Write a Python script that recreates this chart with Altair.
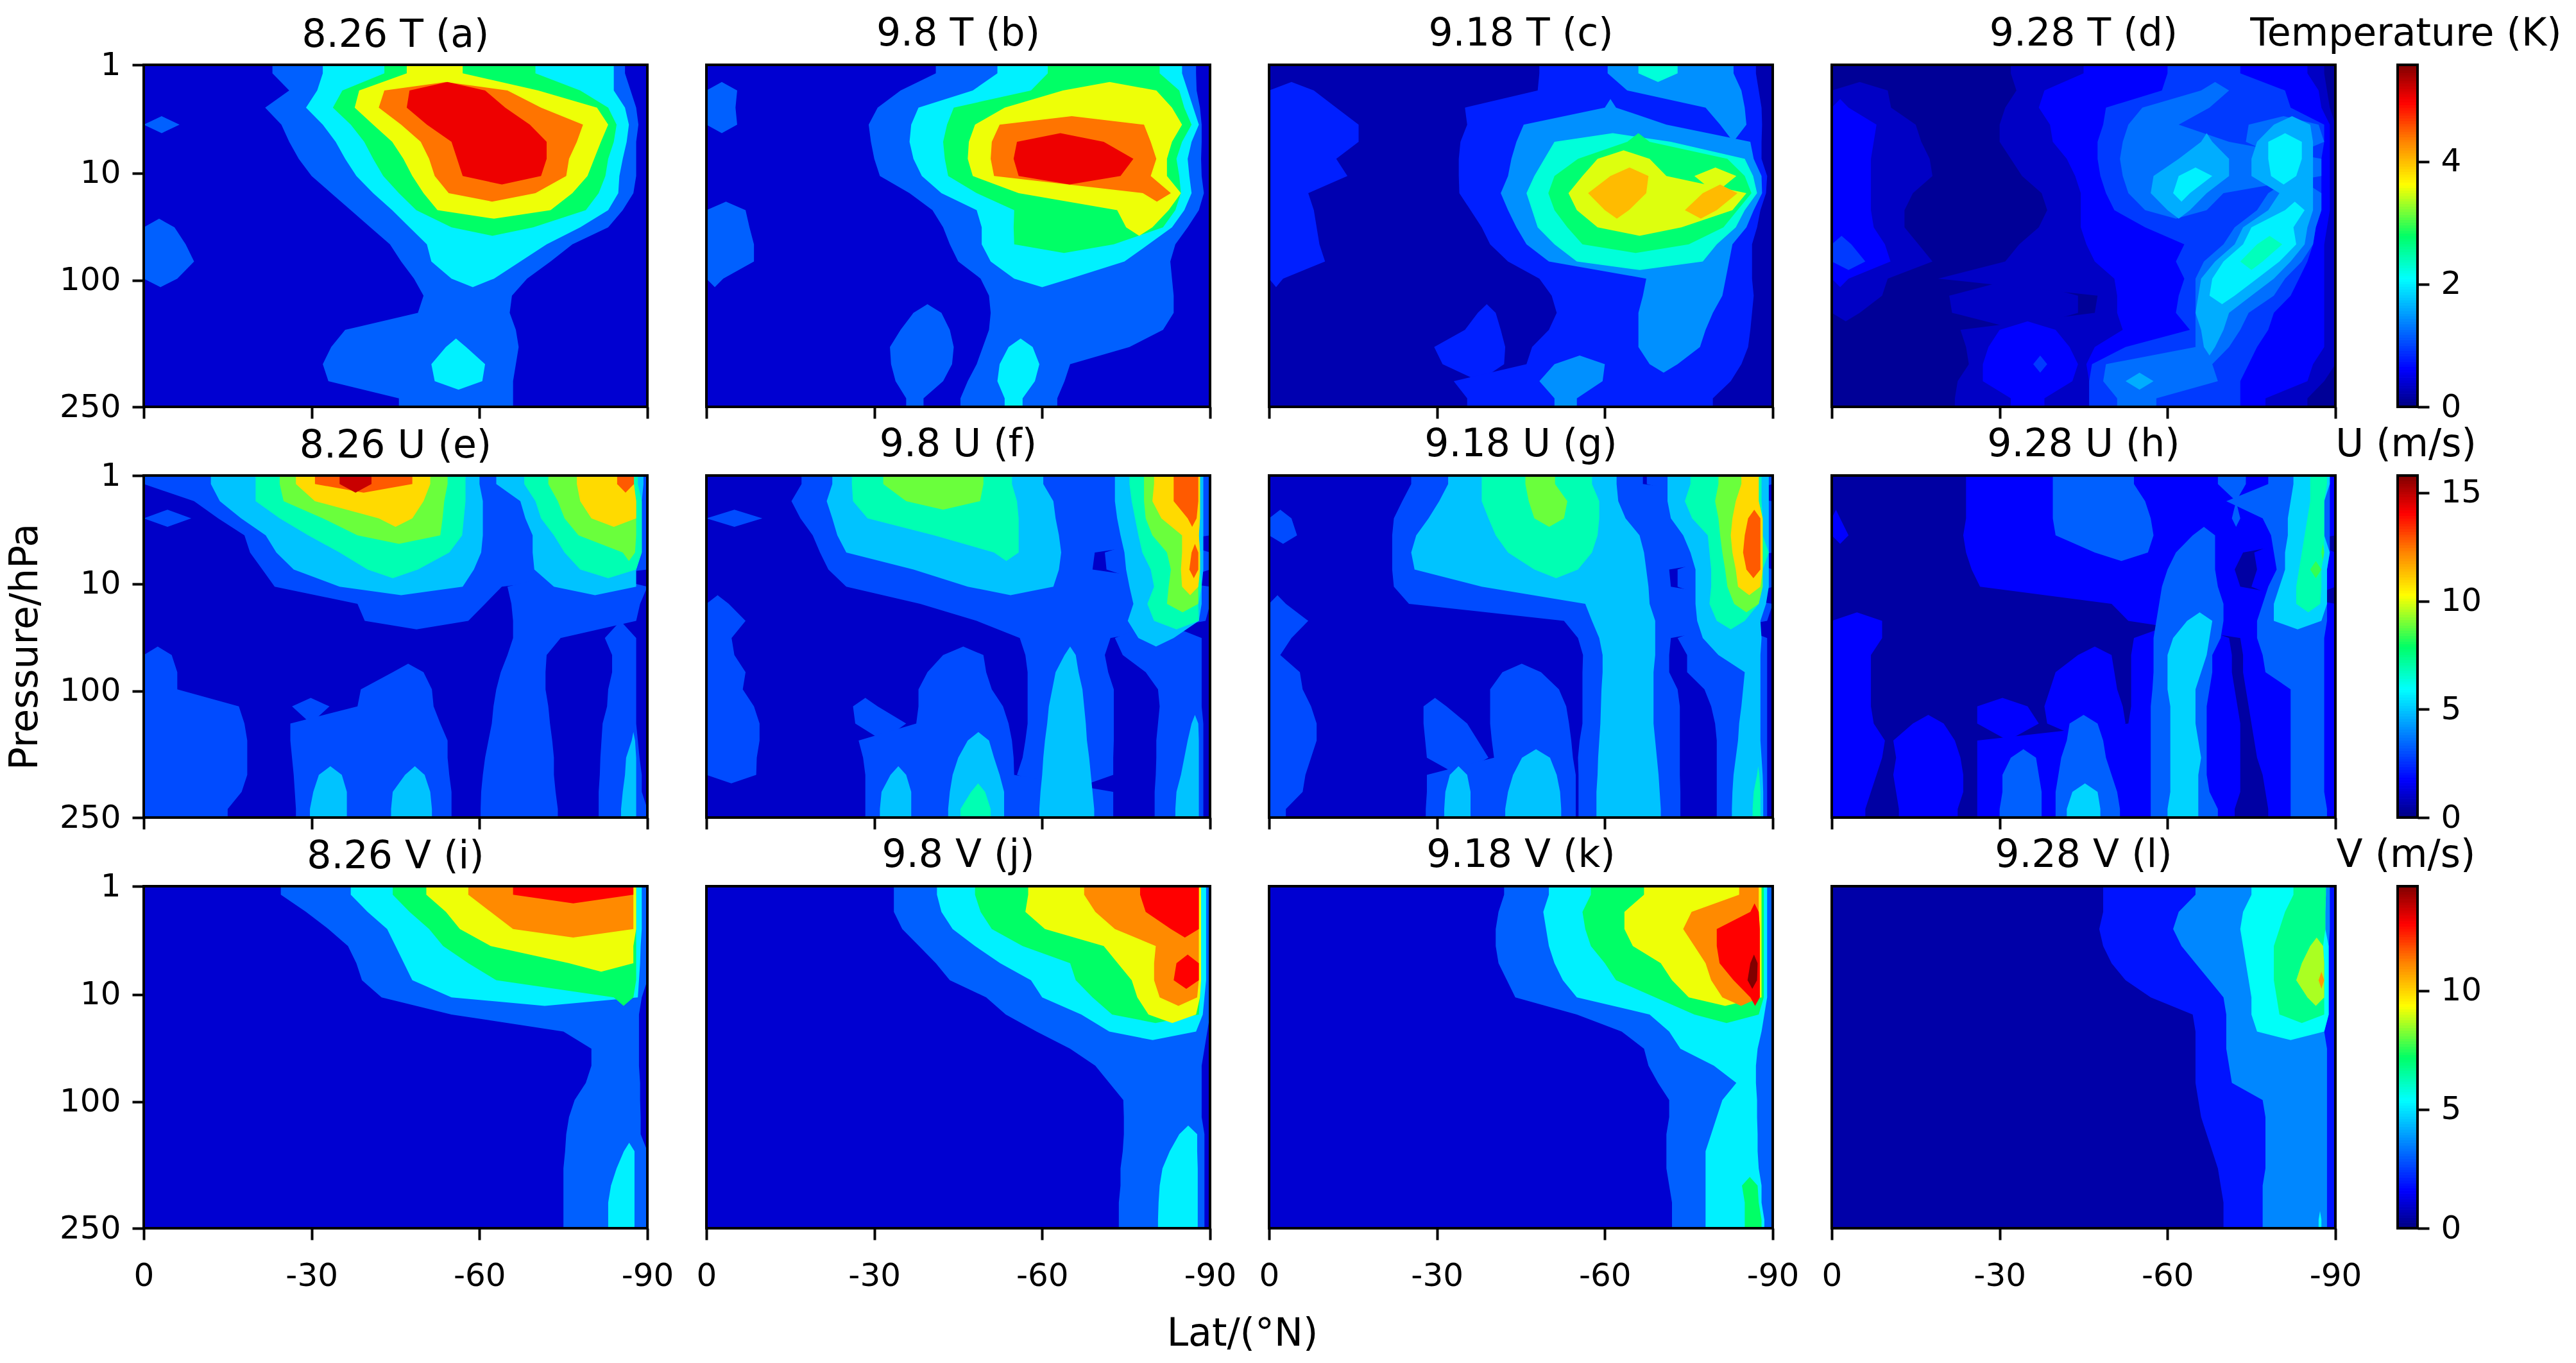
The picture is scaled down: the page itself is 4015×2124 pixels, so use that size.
import altair as alt
import numpy as np

# Colour map stops (fraction of the colour bar, colour)
STOP_F = [0, .11, .375, .5, .65, .78, .89, 1]
STOP_C = ["#000080", "#0000ff", "#00ffff", "#00ff66", "#ffff00", "#ff8000", "#ff0000", "#800000"]

VMAX = {"T": 5.58, "U": 15.8, "V": 14.4}
CB_TICKS = {"T": [0, 2, 4], "U": [0, 5, 10, 15], "V": [0, 5, 10]}
CB_TITLES = {"T": "Temperature (K)", "U": "U (m/s)", "V": "V (m/s)"}

# contour level (fraction of colour bar) of each band, per panel
L_A = [.07, .21, .36, .5, .64, .79, .905]
L_C = [.042, .142, .26, .405, .49, .63, .72]
L_D = [.02, .06, .11, .17, .225, .29, .36, .43]
L_E = [.0625, .1875, .3125, .4375, .5625, .6875, .8125, .9375]
L_H = [.03, .11, .21, .33, .44, .53]
L_I = [.07, .21, .36, .5, .64, .77, .89, 1.0]
L_L = [.035, .13, .25, .38, .47, .6, .75]

# each string is one pressure row: band, latitude (deg S) where it ends, band, ...
A = ["0 23 1 32 2 43 3 47 4 57 3 70 2 84 1 86 0",
"0 26 1 31 2 35.5 3 38.5 4 43 5 47.5 6 61 5 65 4 70.5 3 78 2 84 1 87 0",
"0 21.7 1 29 2 33.8 3 37.7 4 42 5 47 6 64.6 5 71 4 81 3 83 2 86 1 88 0",
"1 6.4 0 24.6 1 32 2 37 3 41 4 46 5 50.6 6 69 5 78.5 4 83 3 84.5 2 86.7 1 88.4 0",
"0 26 1 34.3 2 39.4 3 44.4 4 49.5 5 55 6 72 5 77.4 4 81.7 3 84 2 86.3 1 88 0",
"0 27.7 1 36 2 41 3 46.4 4 51 5 56 6 72 5 76 4 80.5 3 83 2 85.6 1 88 0",
"0 30 1 38 2 42.8 3 48 4 52 5 57 6 71 5 75.5 4 79.3 3 82.5 2 85 1 88 0",
"0 33.5 1 41 2 45.6 3 50 4 54.5 5 70 4 76.6 3 81.3 2 84.8 1 87.5 0",
"0 37 1 44.4 2 48.7 3 52.5 4 72.7 3 79 2 83 1 85.6 0",
"1 5.5 0 40.5 1 47.5 2 55 3 69.6 2 78 1 83 0",
"1 7.5 0 44 1 50.6 2 72 1 76.6 0",
"1 9 0 46 1 51.4 2 67.3 1 72.7 0",
"1 6 0 48.3 1 55 2 62.6 1 68.5 0",
"0 50 1 65.8 0",
"0 49 1 65.4 0",
"0 36 1 66.5 0",
"0 33.5 1 54 2 57.6 1 67 0",
"0 32 1 51.4 2 61 1 66.5 0",
"0 33 1 52 2 60.5 1 66 0",
"0 45.6 1 66 0"]
B = ["0 41 1 52 2 61 3 81 2 85 1 87.5 0",
"1 5.5 0 34.7 1 47.6 2 58 3 63.7 4 80.4 3 84.5 2 86 1 87.6 0",
"1 5.2 0 30.6 1 37.9 2 44.2 3 53.3 4 83.2 3 85.4 2 87 1 88.2 0",
"1 5.5 0 29 1 36.6 2 43 3 48 4 52.4 5 78.2 4 85 3 86.7 2 88 1 88.5 0",
"0 29.4 1 36.3 2 42.3 3 46.9 4 51 5 55.5 6 71 5 79.4 4 83.2 3 85 2 86.7 1 88.5 0",
"0 30 1 37 2 42.6 3 46.7 4 50.8 5 54.9 6 76.3 5 80.4 4 82.3 3 84 2 86 1 88.4 0",
"0 31 1 38.5 2 43.2 3 47.6 4 51.4 5 55.8 6 74 5 79.4 4 82.3 3 84.5 2 86.3 1 88.5 0",
"0 36.3 1 42 2 48.3 3 55.8 4 78 5 83 4 84.8 2 86.7 1 88.9 0",
"1 7 0 40.4 1 48.3 2 55 3 73.4 4 82.6 3 83.8 2 85.4 1 88 0",
"1 7.7 0 42.3 1 49.2 2 54.9 3 75 4 79.7 3 81.6 2 83.2 1 86 0",
"1 8.5 0 43.5 1 49.2 2 55 3 72.8 2 79 1 83.8 0",
"1 8.5 0 45 1 50.8 2 74.7 1 82.9 0",
"1 3 0 49 1 55 2 65 1 83.2 0",
"0 50.5 1 83.5 0",
"0 37 1 42 0 50.8 1 83.5 0",
"0 34.7 1 43.5 0 50.5 1 81.6 0",
"0 32.8 1 44.2 0 49.4 1 54 2 58.3 1 75.6 0",
"0 33 1 43.9 0 48.3 1 52.4 2 59.5 1 65 0",
"0 33.8 1 42.3 0 46.7 1 52 2 58.7 1 64 0",
"0 35.7 1 38.8 0 45.4 1 53.3 2 56.5 1 62.7 0"]
C = ["0 48.3 1 60.5 2 66 3 73 2 83 1 87 0",
"1 8 0 48 1 64 2 84.4 1 87.5 0",
"1 12 0 35 1 60 2 62 1 78 2 85 1 88 0",
"1 16 0 35.4 1 45.5 2 71 1 80.6 2 85.3 1 88.1 0",
"1 16 0 34.2 1 44.2 2 51 3 64 4 68 3 71.8 2 86 1 88 0",
"1 12 0 33.9 1 43.3 2 49.2 3 55.2 4 58.7 5 68 4 81.9 3 85 2 86.6 1 88 0",
"1 14 0 33.9 1 42.7 2 47.4 3 51 4 56 5 61 6 67.8 5 71 4 76 5 83.5 4 85 3 86.5 2 88 1 89 0",
"1 7 0 34 1 41.4 2 46 3 49.9 4 53.5 5 57 6 67.4 5 77.5 6 83.7 5 85.3 4 86.2 3 87.2 2 88.1 1 88.8 0",
"1 8 0 36 1 42.7 2 47 3 51 4 55 5 60 6 64.3 5 74.3 6 80 5 82.8 4 83.7 3 85 2 86.6 1 87.8 0",
"1 8.5 0 38 1 44.2 2 48 3 53.3 4 58.7 5 73.7 4 81.2 3 83.4 2 85.3 1 87.2 0",
"1 9 0 39.5 1 46 2 51 3 56 4 75 3 80 2 82.8 1 86.3 0",
"1 10 0 42.7 1 50 2 55 3 77.5 2 82.2 1 86.3 0",
"1 2.5 0 48.3 1 67.4 2 81.6 1 86.3 0",
"0 50.5 1 66.8 2 81 1 86.6 0",
"0 37.3 1 40.5 0 51.4 1 66 2 79.3 1 86.3 0",
"0 35 1 41.4 0 50 1 66 2 78 1 86 0",
"0 29.5 1 42.2 0 47 1 66 2 77 1 85.6 0",
"0 31 1 42 0 46 1 51 2 60 1 68 2 73 1 84.4 0",
"0 33 1 48.3 2 59.6 1 82.5 0",
"0 35.4 1 51 2 55 1 79.3 0"]
D = ["0 32 1 45 2 60 3 73 2 85 1 88 0",
"1 10 0 33 1 38 2 59 3 66 4 71 3 81 2 87 1 88.5 0",
"2 3 1 10.6 0 31 1 37 2 49 3 55.5 4 67.5 3 82 2 87.5 1 89 0",
"2 8 1 15 0 30 1 39 2 48.5 3 53 4 62 3 74.5 4 79 5 85.5 4 87 3 88 2 89 1",
"2 7.5 1 16 0 30 1 39.5 2 47.5 3 52 4 66 5 68 4 71 3 74 4 76 5 78 6 84 5 86 4 88 2 89 1",
"2 7 1 17.5 0 32 1 42 2 47.5 3 51.5 4 62 5 71 4 75 5 78 6 84 5 86 4 87.5 2 89 1",
"2 7 1 18 0 34 1 43.5 2 48 3 52 4 57.5 5 62 6 68 5 71 4 75 5 78.5 6 83 5 86 4 87.5 2 89 1",
"2 7 1 14.5 0 37.5 1 44.5 2 49 3 53 4 57 5 61 6 64 5 67 4 70 3 78 4 80 5 86 4 87.5 2 89 1",
"2 7 1 13 0 38.5 1 44.5 2 50.5 3 56 4 60 5 64 4 67 3 76 4 78 5 81 6 84.5 5 86 4 87.5 2 89 1",
"2 7.5 1 13 0 37 1 44.5 2 56 3 72 4 73.5 5 75 6 82.5 5 85 4 86.5 2 88.5 1",
"3 3.5 2 9.5 1 15.5 0 33.5 1 45.5 2 63 3 70 4 72 5 73.5 6 76 7 80.5 6 83 5 84.5 4 86 2 88 1",
"3 6 2 10.5 1 18 0 31 1 47 2 61.5 3 66.5 4 68.5 5 70 6 73 7 77 6 80 5 82 4 84 3 85 2 88 1",
"2 3 1 10 0 19 1 50.5 2 63 3 65 4 66 5 68 6 76 5 79 4 81 3 83.5 2 88 1",
"1 9 0 21 1 44 0 47.5 1 51 2 62 3 65 4 65.5 5 67.5 6 72 5 75 4 79 3 82 2 88 1",
"1 5 0 21.5 1 44 0 47 1 51 2 61.5 3 65 5 71 4 74.5 3 79 2 88 1",
"0 23 1 30 2 40 1 52 2 64 3 65 4 66 5 70 4 73 3 78 2 88 1",
"0 24 1 28 2 42.5 1 47 2 52.5 3 65 4 66.5 5 68.5 4 71 3 76 2 88 1",
"0 24.5 1 27 2 36 3 38.5 2 44 1 45.5 2 46.5 3 49 4 68 3 74.5 2 86 1",
"0 22.5 1 27 2 43 1 46 3 48.5 4 52.5 5 57.5 4 69 3 73 2 85 1 88 0",
"0 22 1 32 2 38 1 46 3 51 4 58 3 73 2 77.5 1 85 0"]
E = ["1 12 2 20 3 24.3 4 27.2 5 30.6 6 35 7 40.7 6 48 5 51.2 4 54.3 3 57.5 2 60 1 63 2 68 3 72.3 4 77.4 5 84.6 6 87.6 3 88.3 2 89.3 1",
"0 9 1 13.6 2 20 3 25 4 30.6 5 50 4 53.7 3 57.5 2 60.6 1 67.3 2 70 3 74 4 78 5 88 3 89 1",
"1 8.5 0 13.3 1 17.4 2 24.3 3 32 4 42 5 48 4 53.4 3 57.2 2 60.6 1 68.2 2 71 3 75.2 4 80 5 88 3 89 1",
"0 18 1 21.8 2 29.4 3 38.2 4 53 3 56.9 2 60.6 1 69.5 2 73.3 3 77.7 4 88 3 89 1",
"0 19 1 23.7 2 35 3 54.6 2 60.3 1 69.5 2 75.2 3 85.6 4 87.8 3 89 1",
"0 21.2 1 26.8 2 40 3 49 2 59 1 69.8 2 78 3 88 1",
"0 23.4 1 35 2 57 1 64 0 65 1 73.3 2 88 1",
"0 38.2 1 61 0 65.7 1 88.7 0",
"0 39.5 1 58 0 66 1 88 0",
"0 66 1 74.5 0 82.4 1 88 0",
"1 5 0 65 1 72 0 83.7 1 88 0",
"1 6 0 44.5 1 50 0 63.8 1 71.8 0 83.7 1 88 0",
"1 6 0 38.8 1 51.5 0 63 1 71.8 0 83 1 88 0",
"1 17 0 26.5 1 33.2 0 38.2 1 51.8 0 62.5 1 72.3 0 82.8 1 88 0",
"1 18 0 26.2 1 53 0 62.2 1 72.6 0 82 1 88 0",
"1 18.5 0 26.2 1 54.3 0 61.6 1 73 0 81.8 1 87.2 2 87.8 1 88.3 0",
"1 18.5 0 26.5 1 54.3 0 61 1 73.3 0 81.6 1 86.2 2 88 1 88.6 0",
"1 18.5 0 26.8 1 31.3 2 35.4 1 46.7 2 50.2 1 54.6 0 60.6 1 73.3 0 81.5 1 86 2 88 1 89 0",
"1 17.5 0 27 1 30.3 2 36.3 1 44.5 2 51.2 1 55 0 60.3 1 73.6 0 81.3 1 85.6 2 88 1 89 0",
"1 15 0 27.2 1 29.7 2 36.3 1 44.2 2 51.5 1 55 0 60.2 1 74 0 81.3 1 85.3 2 88 1"]
F = ["0 17 1 22.5 2 26 3 31.6 4 49.5 3 54.6 2 60.2 1 73 2 75.6 3 78.2 4 80 5 83.5 6 87.9 5 88.2 2 88.8 1",
"0 15.2 1 21.5 2 26.2 3 35.7 4 48.9 3 55.5 2 62 1 73 2 76 3 78.2 4 79.7 5 83.5 6 87.9 5 88.2 2 88.8 1",
"1 10 0 16.8 1 22.5 2 28.8 3 55.8 2 62.4 1 73.4 2 76.6 3 78.5 4 81.3 5 86 6 87.6 5 88.2 2 88.8 1",
"0 19 1 23.4 2 40.7 3 55.8 2 63 1 74 2 77.2 3 79.7 4 85 5 88 2 88.8 1",
"0 20.3 1 25 2 51.4 3 55.8 2 63.4 1 69.4 0 71.2 1 74.7 2 77.9 3 82.3 4 85 5 86.7 6 87.9 5 88.2 2 88.8 1",
"0 21.8 1 37 2 63 1 69 0 71.5 1 75 2 79.4 3 83 4 84.8 5 86.3 6 87.9 5 88.2 2 88.8 1",
"0 25 1 46.7 2 62 1 75.6 2 80 3 82.6 4 85 5 87.9 3 88.5 1",
"1 4 0 38.2 1 76.3 2 78.8 3 82.3 4 87.9 2 88.5 1",
"1 7 0 48.3 1 75.3 2 80 3 88 1 89.2 0",
"1 4.5 0 56 1 72.2 0 73 1 77.2 2 83.5 1 88.5 0",
"1 5 0 42.3 1 49.5 0 57 1 64 2 66 1 71.2 0 74.4 1 88.5 0",
"1 7 0 39.5 1 50 0 57.4 1 62.4 2 66.5 1 71.8 0 78.5 1 88.5 0",
"1 6.5 0 37.9 1 51 0 57.4 1 61.8 2 67.2 1 72.8 0 80.7 1 88.5 0",
"1 8.5 0 26.2 1 30.6 0 37.9 1 53 0 57.4 1 61.2 2 67.5 1 72.8 0 81 1 88.5 0",
"1 9.5 0 26.6 1 35.7 0 37.5 1 54 0 57.4 1 60.9 2 67.8 1 72.8 0 80.7 1 86.7 2 87.9 1 88.8 0",
"1 9.5 0 27.2 1 46.7 2 50.5 1 54.6 0 57 1 60.5 2 68 1 72.8 0 80.4 1 86 2 88 1 88.8 0",
"1 9 0 28 1 45 2 51.4 1 54.9 0 56.5 1 60.2 2 68.4 1 72.7 0 80.4 1 85.4 2 88 1 88.8 0",
"1 8.9 0 28.4 1 32.9 2 35.7 1 44 2 52.4 1 55 0 55.5 1 60 2 68.7 1 72.7 0 80.3 1 84.8 2 88 1 88.8 0",
"0 28.4 1 31.3 2 36.6 1 43.5 2 47.3 3 49.8 2 53.2 1 59.7 2 69 1 72.7 0 80.1 1 84 2 88 1 88.8 0",
"0 28.4 1 31 2 36.6 1 43.2 2 45.4 3 50.8 2 53.2 1 59.5 2 69.3 1 72.7 0 80.1 1 83.8 2 88 1 88.8 0"]
G = ["0 25.4 1 32 2 38 3 45.8 4 51.1 3 57.7 2 62.1 1 66.8 0 67.5 1 71.2 2 75.3 3 80.3 4 84.4 5 87.5 3 88 2 89.3 1",
"0 23.8 1 30.4 2 38 3 46.4 4 53.3 3 59 2 62.4 1 71.2 2 74.3 3 79.7 4 83.4 5 87.5 3 88 2 89.3 1",
"1 4 0 22.3 1 28.5 2 39.2 3 47.4 4 52.7 3 59 2 63.7 1 71.8 2 75.6 3 80.3 4 82.8 5 85.6 6 87.8 5 88.2 2 89.3 1",
"1 5 0 22 1 26.3 2 40.5 3 58.7 2 66.2 1 74 2 78.4 3 80.6 4 82.5 5 85 6 87.8 5 88.2 2 89.3 1",
"0 22 1 25.4 2 42.7 3 57.7 2 67 1 75.3 2 78.7 3 81 4 82.8 5 84.7 6 87.8 5 88.2 3 89.3 1",
"0 22 1 26 2 47.4 3 55.2 2 67.4 1 71.5 0 73 1 76.2 2 79 3 81.5 4 83.4 5 85.3 6 87.8 5 88.2 2 89.3 1",
"0 22.3 1 38 2 67.8 1 71.8 0 73 1 76.2 2 79 3 81.9 4 83.8 5 87.8 4 88.2 2 89.3 1",
"1 3 0 25 1 56.5 2 68 1 76.2 2 78.7 3 83.1 4 87.5 2 88.8 1",
"1 7 0 52.7 1 57.7 2 69 1 76.5 2 80 3 85 2 87.8 1 89 0",
"1 4 0 55.2 1 59 2 69 1 71.8 0 73 1 77.5 2 88 1 89 0",
"1 2 0 56.1 1 59.6 2 69 1 71.5 0 74.7 1 80.3 2 87.8 1 89 0",
"1 5.5 0 41.7 1 48.6 0 56 1 59.6 2 68.7 1 71.5 0 74.7 1 85 2 87.8 1 89 0",
"1 6 0 39.5 1 51.8 0 56 1 59.4 2 68.7 1 73 0 77.8 1 84.7 2 87.8 1 89 0",
"1 7.5 0 27.6 1 31.7 0 39.5 1 53.1 0 56 1 59.3 2 68.7 1 73.4 0 79 1 84.4 2 87.8 1 89 0",
"1 8.5 0 27.6 1 35.4 0 39.5 1 53.6 0 56 1 59.2 2 68.7 1 73.4 0 79.7 1 84 2 87.8 1 89 0",
"1 8.5 0 27.9 1 37.3 0 39.8 1 54 0 55.5 1 59 2 69 1 73.4 0 80 1 83.8 2 87.8 1 89 0",
"1 7.5 0 28.2 1 39.2 0 40.2 1 45.2 2 50.2 1 54.3 0 55.2 1 58.8 2 69.3 1 73.4 0 80 1 83.4 2 88 1 89 0",
"1 6.5 0 28.2 1 32.3 2 35.4 1 43.6 2 51.4 1 54.8 0 55.3 1 58.7 2 69.6 1 73.4 0 80 1 83 2 87.2 3 87.6 2 88.2 1 89 0",
"1 6 0 28.2 1 31.5 2 36 1 42.7 2 52 1 54.8 0 55.3 1 58.5 2 69.8 1 73.5 0 80 1 82.8 2 86.6 3 87.8 2 88.3 1 89 0",
"1 3 0 28 1 31.3 2 36 1 42.2 2 52.2 1 54.8 0 55.3 1 58.5 2 70 1 73.5 0 80 1 82.7 2 86.4 3 87.8 2 88.3 1 89 0"]
H = ["0 24 1 39.5 2 54 1 69 2 74 1 78 2 82.5 3 85.5 4 88.5 3 89 1",
"0 24 1 39.5 2 56 1 70.5 2 82 3 85.5 4 88 2 89 1",
"1 1.5 0 24 1 39.5 2 57 1 71.5 2 73 1 77 2 81.5 3 85 4 88 2 89 1",
"1 3 0 23.5 1 40 2 57.5 1 64.5 2 68.5 1 78.5 2 81.5 3 84.5 4 88 2 89 1",
"0 24 1 47 2 56.5 1 61.5 2 68.5 1 73.5 0 75.5 1 79 2 81 3 84 4 87.5 5 88 3 89 1",
"0 25 1 60 2 68.5 1 72 0 76 1 79.5 2 81 3 83.5 4 85.5 5 87.5 3 88.5 1",
"0 26.5 1 59 2 69 1 73 0 75 1 78 2 80 3 83 4 87.5 3 88.5 1",
"0 50 1 58.5 2 70 1 77 2 79 3 83 4 87.3 3 88.5 1",
"1 9 0 53 1 58 2 63.5 3 68 2 70 1 76 2 79 3 87.5 2 88.5 1",
"1 9 0 54 1 57.5 2 61 3 67.5 2 69.5 1 71 0 73 1 76 2 88 1",
"1 7 0 44 1 50 0 53.5 1 57.5 2 60 3 67 2 68 1 71.5 0 73.5 1 77 2 88 1",
"1 7 0 40 1 50.5 0 53.5 1 57.5 2 60 3 66 2 68 1 71.5 0 73.5 1 77.5 2 88 1",
"1 7 0 39 1 51 0 53.5 1 57.3 2 60 3 65 2 67.5 1 72 0 74 1 82 2 88 1",
"1 7 0 26 1 35 0 38 1 52 0 53.5 1 57 2 60.5 3 65 2 67 1 72.5 0 74.5 1 82 2 88 1",
"1 7.5 0 14.5 1 20 0 26 1 37 0 38.5 1 42.5 2 47.5 1 52.5 0 53 1 57 2 60.5 3 65 2 67 1 73 0 75 1 82 2 88 1",
"1 9.5 0 11 1 22 0 26 1 42 2 48.5 1 57 2 60.5 3 65.5 2 67 1 73 0 75.5 1 82 2 88 1",
"1 9 0 11.5 1 23 0 26 1 32 2 36.5 1 41 2 49 1 57 2 60.5 3 66 2 67 1 73 0 76 1 82 2 88 1",
"1 8 0 11 1 23.5 0 26 1 30.5 2 37 1 40.5 2 50 1 57 2 60.5 3 65.5 2 67 1 73 0 77 1 82 2 88 1",
"1 7 0 11.5 1 23.5 0 26 1 30.5 2 37.5 1 40 2 43 3 47.5 2 51 1 57 2 60.5 3 65.5 2 67.5 1 73 0 77.5 1 82 2 88 1",
"1 6 0 12 1 22.5 0 26 1 30 2 37.5 1 40 2 42 3 48 2 51.5 1 57 2 60 3 65.5 2 69 1 72 0 78 1 82 2 88.5 1"]
I = ["0 24.5 1 37 2 44.5 3 50.5 4 58 5 66 6 87.5 4 88 2 89 1",
"0 29 1 40 2 47.5 3 54 4 62 5 87.5 4 88 2 89 1",
"0 33 1 43.5 2 51 3 56.5 4 66 5 87.5 4 88 2 89 1",
"0 36.5 1 45 2 53.5 3 62 4 87.5 3 88 2 88.8 1",
"0 38 1 46.5 2 58 3 76 4 87.5 3 88 2 88.7 1",
"0 39 1 48 2 63 3 88 2 88.5 1",
"0 42.5 1 55 2 84 3 87.5 2 88.3 1 89 0",
"0 55 1 88.5 0",
"0 75 1 88.5 0",
"0 80 1 88.5 0",
"0 80 1 88.5 0",
"0 79 1 88.7 0",
"0 77 1 88.7 0",
"0 76 1 88.8 0",
"0 75.5 1 88.8 0",
"0 75.3 1 85.8 2 87.7 1",
"0 75 1 84.5 2 87.7 1",
"0 75 1 83.5 2 87.7 1",
"0 75 1 83 2 87.7 1",
"0 75 1 83 2 87.7 1"]
J = ["0 33.5 1 41.2 2 48 3 57.5 4 67.5 5 77.5 6 88 4 88.4 2 89.3 1",
"0 33.5 1 42 2 49 3 57 4 69.5 5 78.5 6 88 4 88.4 2 89.3 1",
"0 35 1 44 2 51 3 60.5 4 73 5 83 6 88 4 88.4 2 89.3 1",
"0 38 1 48 2 56.5 3 71 4 80.3 5 88 4 88.4 2 89.3 1",
"0 41 1 52.5 2 65 3 73.5 4 80 5 84 6 88 4 88.4 2 89.3 1",
"0 43.5 1 58 2 66 3 76 4 80 5 83.5 6 88 4 88.4 2 89.3 1",
"0 50 1 60 2 69 3 77 4 81 5 87.7 4 88.2 2 89 1",
"0 53.5 1 67 2 72.5 3 79 4 87.5 3 88 2 88.7 1",
"0 59 1 72 2 87.5 1 89.5 0",
"0 65 1 89 0",
"0 69.5 1 88.5 0",
"0 72 1 88.5 0",
"0 74.5 1 88.5 0",
"0 74.6 1 88.5 0",
"0 74.6 1 84.5 2 87.7 1 89 0",
"0 74.4 1 82.8 2 87.7 1 89 0",
"0 74 1 81.5 2 87.8 1 89 0",
"0 74 1 81 2 87.8 1 89 0",
"0 73.7 1 80.8 2 87.8 1 89 0",
"0 73.7 1 80.7 2 87.8 1 89 0"]
K = ["0 42 1 50 2 57.5 3 67 4 84 5 87.5 4 88 3 88.4 2 89 1",
"0 41 1 49 2 56 3 63.5 4 75.5 5 86 6 87.5 4 88 3 88.4 2 89 1",
"0 40.5 1 49.5 2 56.5 3 63.5 4 74 5 80 6 87.7 4 88 3 88.4 2 89 1",
"0 40.5 1 50 2 57.5 3 65 4 76 5 80 6 87.7 4 88 3 88.4 2 89 1",
"0 41 1 51 2 60 3 70 4 78 5 80.5 6 86 7 87.3 6 87.7 4 88 3 88.4 2 89 1",
"0 42.5 1 52.5 2 62 3 72 4 79 5 83 6 85.5 7 87.2 6 87.7 4 88 3 88.4 2 89 1",
"0 44 1 55 2 69 3 75 4 81 5 86 6 87.7 4 88 3 88.4 2 89 1",
"0 55 1 68 2 76 3 87.5 2 88.5 1",
"0 63 1 71.5 2 88 1",
"0 67 1 73.5 2 87.3 1",
"0 67.8 1 79.5 2 87 1",
"0 69.5 1 83.5 2 87 1",
"0 71.5 1 81 2 87.2 1",
"0 71.5 1 80 2 87.2 1",
"0 71 1 79 2 87.3 1",
"0 71 1 78 2 87.3 1",
"0 71 1 78 2 87.5 1",
"0 71.5 1 78 2 84.5 3 87.3 2 88 1",
"0 72 1 78 2 85 3 87.5 2 88 1",
"0 72 1 78 2 85 3 88 2 88.5 1"]
L = ["0 48.5 1 65 2 75 3 82.5 4 88.3 2 89 1",
"0 48.5 1 62 2 73.5 3 81 4 88.2 2 89 1",
"0 47.8 1 61 2 73 3 80 4 88.2 2 89 1",
"0 48.5 1 62.5 2 73.5 3 79 4 85.5 5 87.8 3 88.8 1",
"0 50 1 65 2 74 3 79 4 84 5 88 3 88.8 1",
"0 52.5 1 67.5 2 74.5 3 79 4 83 5 87 6 88 3 88.8 1",
"0 57 1 70 2 75 3 79.5 4 85 5 88 3 88.8 1",
"0 64.5 1 70.5 2 75 3 80 4 88 3 88.8 1",
"0 65 1 70.5 2 76 3 88 1",
"0 65 1 70.5 2 88.5 1",
"0 65 1 71 2 88.5 1",
"0 65 1 71.5 2 88.5 1",
"0 65.5 1 77 2 88.5 1",
"0 66 1 77.5 2 88.5 1",
"0 67 1 77.5 2 88.5 1",
"0 68 1 77.5 2 88.5 1",
"0 69 1 77.5 2 88.5 1",
"0 69.5 1 77 2 88.5 1",
"0 70 1 77 2 88.5 1",
"0 70 1 77 2 87 3 87.5 2 88.5 1"]

LAT_TICKS = [0, -30, -60, -90]
ROW_TICKS = [0, 6.34, 12.6, 20]  # rows where 1, 10, 100, 250 hPa sit
ROW_LABELS = "datum.value<1?'1':datum.value<7?'10':datum.value<13?'100':'250'"

W, H_P, CBW = 785, 533, 36
N_ROWS = 20
PANELS = [
    ("T", "8.26 T (a)", A, L_A), ("T", "9.8 T (b)", B, L_A), ("T", "9.18 T (c)", C, L_C), ("T", "9.28 T (d)", D, L_D),
    ("U", "8.26 U (e)", E, L_E), ("U", "9.8 U (f)", F, L_E), ("U", "9.18 U (g)", G, L_E), ("U", "9.28 U (h)", H, L_H),
    ("V", "8.26 V (i)", I, L_I), ("V", "9.8 V (j)", J, L_I), ("V", "9.18 V (k)", K, L_I), ("V", "9.28 V (l)", L, L_L),
]
FONT = "DejaVu Sans"
COLOR_SCALE = alt.Scale(domain=STOP_F, range=STOP_C, interpolate="rgb", clamp=True)


def parse(row):
    toks = row.split()
    runs, start = [], 0.0
    for i in range(0, len(toks), 2):
        end = float(toks[i + 1]) if i + 1 < len(toks) else 90.0
        runs.append((start, end, int(toks[i])))
        start = end
    return runs


def intervals(runs, lev):
    out = []
    for a, b, l in runs:
        if l >= lev:
            if out and abs(out[-1][1] - a) < 1e-9:
                out[-1] = (out[-1][0], b)
            else:
                out.append((a, b))
    return out


def overlap(p, q):
    return min(p[1], q[1]) - max(p[0], q[0])


def band_chains(rows, lev):
    """Join one band's extents from row to row, so each patch is one closed area."""
    parsed = [parse(r) for r in rows]
    done, active, prev = [], [], []
    for r, runs in enumerate(parsed):
        ivs = intervals(runs, lev)
        y = r + .5
        pairs = sorted(((overlap(c[-1][1:], iv), ci, ii) for ci, c in enumerate(active) for ii, iv in enumerate(ivs)),
                       reverse=True)
        used_c, used_i = set(), set()
        for ov, ci, ii in pairs:
            if ov > 0 and ci not in used_c and ii not in used_i:
                active[ci].append((y, ivs[ii][0], ivs[ii][1]))
                used_c.add(ci)
                used_i.add(ii)
        nxt = []
        for ci, c in enumerate(active):
            if ci in used_c:
                nxt.append(c)
                continue
            last = c[-1][1:]
            touch = [iv for iv in ivs if overlap(last, iv) > 0]
            if touch:
                m = (max(last[0], touch[0][0]) + min(last[1], touch[0][1])) / 2
                c.append((y, m, m))
            else:
                m = (last[0] + last[1]) / 2
                c.append((y - .5, m, m))
            done.append(c)
        for ii, iv in enumerate(ivs):
            if ii in used_i:
                continue
            if r == 0:
                nxt.append([(0.0, iv[0], iv[1]), (y, iv[0], iv[1])])
                continue
            touch = [p for p in prev if overlap(p, iv) > 0]
            if touch:
                m = (max(iv[0], touch[0][0]) + min(iv[1], touch[0][1])) / 2
                nxt.append([(y - 1, m, m), (y, iv[0], iv[1])])
            else:
                m = (iv[0] + iv[1]) / 2
                nxt.append([(y - .5, m, m), (y, iv[0], iv[1])])
        active, prev = nxt, ivs
    for c in active:
        c.append((float(N_ROWS), c[-1][1], c[-1][2]))
        done.append(c)
    return done


def frame(x0, w):
    return alt.Chart(alt.Data(values=[{"a": 1}])).mark_rect(
        fill="transparent", stroke="black", strokeWidth=4
    ).encode(x=alt.value(x0), x2=alt.value(w), y=alt.value(0), y2=alt.value(H_P))


def panel(i, var, title, rows, levels):
    col, row = i % 4, i // 4
    ax = dict(values=LAT_TICKS, labelExpr="''+datum.value", grid=False, domain=False, tickSize=18, tickWidth=4,
              tickColor="black", labelFontSize=50, labelFont=FONT, labelColor="black", labelPadding=31,
              labelFlush=False, labels=row == 2, title=None)
    if row == 2 and col == 1:
        ax.update(title="Lat/(°N)", titleFont=FONT, titleFontSize=60, titleFontWeight="normal", titleColor="black",
                  titleX=835, titleY=164, titleBaseline="middle", titleAlign="center")
    if col == 0:
        ay = dict(values=ROW_TICKS, labelExpr=ROW_LABELS, grid=False, domain=False, tickSize=18, tickWidth=4,
                  tickColor="black", labelFontSize=50, labelFont=FONT, labelColor="black", labelPadding=18,
                  labelFlush=False, title=None)
        if row == 1:
            ay.update(title="Pressure/hPa", titleFont=FONT, titleFontSize=60, titleFontWeight="normal",
                      titleColor="black", titleX=-185, titleY=H_P / 2, titleBaseline="middle", titleAlign="center")
        yaxis = alt.Axis(**ay)
    else:
        yaxis = None
    xsc = alt.Scale(domain=[0, -90], nice=False, zero=False)
    ysc = alt.Scale(domain=[0, N_ROWS], reverse=True, nice=False, zero=False)
    used = sorted({rn[2] for r in rows for rn in parse(r)})
    layers = []
    for k, lev in enumerate(used):
        recs = []
        for cid, c in enumerate(band_chains(rows, lev)):
            for y, a, b in c:
                recs.append({"a": -a, "b": -b, "y": y, "id": cid, "frac": levels[lev],
                             "value": levels[lev] * VMAX[var]})
        layers.append(
            alt.Chart(alt.Data(values=recs)).mark_area(orient="horizontal", clip=True, interpolate="linear").encode(
                x=alt.X("a:Q", scale=xsc, stack=None, axis=alt.Axis(**ax)),
                x2="b:Q",
                y=alt.Y("y:Q", scale=ysc, axis=yaxis),
                detail="id:N",
                color=alt.Color("frac:Q", scale=COLOR_SCALE, legend=None),
            )
        )
    off = -10 if col == 0 else 15
    return alt.layer(*layers, frame(0, W)).properties(
        width=W, height=H_P,
        title=alt.TitleParams(title, font=FONT, fontSize=60, fontWeight="normal", color="black", anchor="middle", offset=off),
    )


def colorbar(var):
    vmax = VMAX[var]
    n = 128
    edges = np.linspace(0, vmax, n + 1)
    vals = [{"y0": float(edges[k]), "y1": float(edges[k + 1]), "frac": (k + .5) / n} for k in range(n)]
    bar = alt.Chart(alt.Data(values=vals)).mark_rect(strokeWidth=1).encode(
        x=alt.value(5), x2=alt.value(CBW),
        y=alt.Y("y0:Q", scale=alt.Scale(domain=[0, vmax], nice=False, zero=False),
                axis=alt.Axis(orient="right", values=CB_TICKS[var], labelExpr="''+datum.value", grid=False, domain=False,
                              tickSize=18, tickWidth=4, tickColor="black", labelFontSize=50, labelFont=FONT,
                              labelColor="black", labelPadding=18, labelFlush=False, title=None)),
        y2="y1:Q",
        color=alt.Color("frac:Q", scale=COLOR_SCALE, legend=None),
        stroke=alt.Stroke("frac:Q", scale=COLOR_SCALE, legend=None),
    )
    return alt.layer(bar, frame(5, CBW)).properties(
        width=CBW, height=H_P,
        title=alt.TitleParams(CB_TITLES[var], font=FONT, fontSize=60, fontWeight="normal", color="black", anchor="middle", offset=15),
    )


charts = []
for i, (var, title, rows, levels) in enumerate(PANELS):
    charts.append(panel(i, var, title, rows, levels))
    if i % 4 == 3:
        charts.append(colorbar(var))

chart = alt.concat(*charts, columns=5, spacing=alt.RowColnumber(row=107, column=92), bounds="flush", align="each").properties(
    padding={"left": 0, "top": 15, "right": 0, "bottom": 30}, background="white"
).configure_view(stroke=None)

chart.save("out.html", embed_options={"renderer": "svg", "actions": False})
